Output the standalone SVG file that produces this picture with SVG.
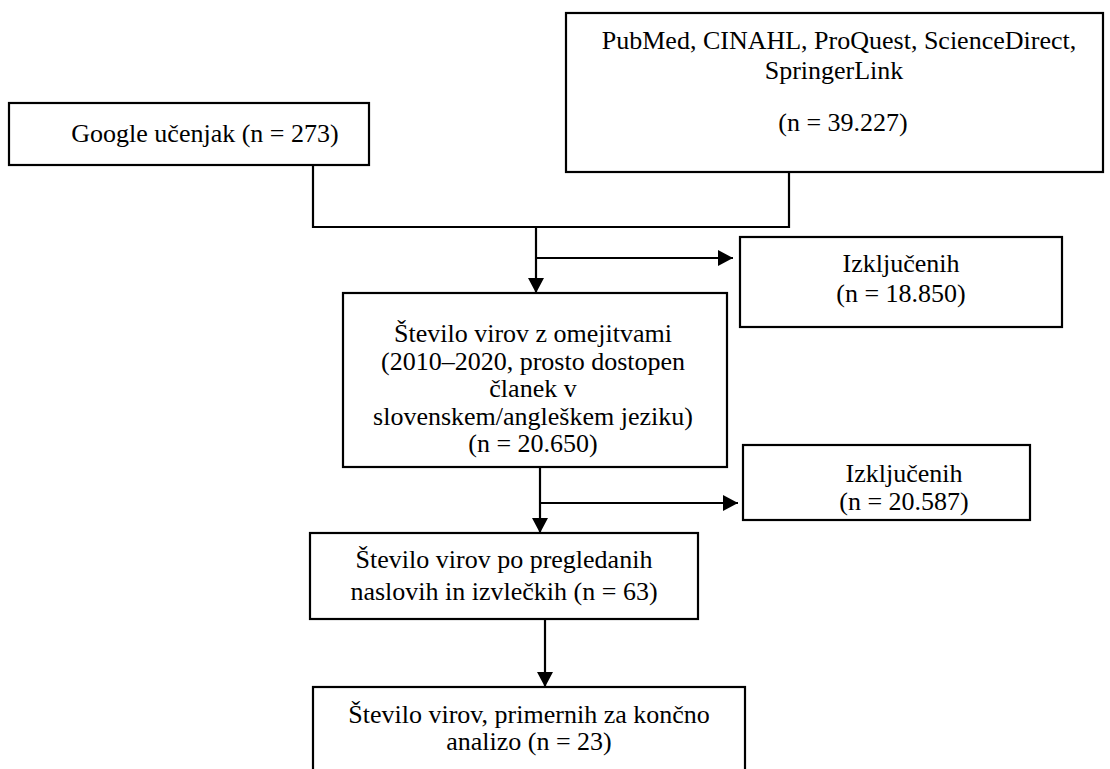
<svg xmlns="http://www.w3.org/2000/svg" width="1110" height="769" viewBox="0 0 1110 769">
<style>
.box{fill:#fff;stroke:#000;stroke-width:2.2}
.t{font-family:"Liberation Serif","Times New Roman",serif;font-size:26px;fill:#000;text-anchor:middle}
.ln{fill:none;stroke:#000;stroke-width:2.2}
</style>
<defs>
<marker id="ah" markerUnits="userSpaceOnUse" markerWidth="16" markerHeight="16" refX="15" refY="8" orient="auto">
<path d="M0,0 L15,8 L0,16 z" fill="#000"/>
</marker>
</defs>
<rect width="1110" height="769" fill="#fff"/>
<g id="connectors">
<path class="ln" d="M313,165 V227 H789 V172"/>
<path class="ln" d="M536,227 V293" marker-end="url(#ah)"/>
<path class="ln" d="M536,258 H733" marker-end="url(#ah)"/>
<path class="ln" d="M540,467 V533" marker-end="url(#ah)"/>
<path class="ln" d="M540,503 H738" marker-end="url(#ah)"/>
<path class="ln" d="M545,619 V687" marker-end="url(#ah)"/>
</g>
<g id="google">
<rect class="box" x="9" y="103" width="360" height="62"/>
<text class="t" x="205" y="142">Google učenjak (n = 273)</text>
</g>
<g id="databases">
<rect class="box" x="566" y="13" width="537" height="159"/>
<text class="t" x="839" y="49">PubMed, CINAHL, ProQuest, ScienceDirect,</text>
<text class="t" x="834" y="79">SpringerLink</text>
<text class="t" x="843" y="131">(n = 39.227)</text>
</g>
<g id="excluded1">
<rect class="box" x="740" y="237" width="322" height="90"/>
<text class="t" x="901" y="272">Izključenih</text>
<text class="t" x="901" y="302">(n = 18.850)</text>
</g>
<g id="limits">
<rect class="box" x="343" y="293" width="384" height="174"/>
<text class="t" x="533" y="342">Število virov z omejitvami</text>
<text class="t" x="533" y="370">(2010–2020, prosto dostopen</text>
<text class="t" x="533" y="397">članek v</text>
<text class="t" x="533" y="425">slovenskem/angleškem jeziku)</text>
<text class="t" x="533" y="452">(n = 20.650)</text>
</g>
<g id="excluded2">
<rect class="box" x="743" y="445" width="287" height="75"/>
<text class="t" x="904" y="482">Izključenih</text>
<text class="t" x="904" y="510">(n = 20.587)</text>
</g>
<g id="screened">
<rect class="box" x="310" y="533" width="388" height="86"/>
<text class="t" x="504" y="568">Število virov po pregledanih</text>
<text class="t" x="504" y="600">naslovih in izvlečkih (n = 63)</text>
</g>
<g id="final">
<rect class="box" x="313" y="687" width="432" height="100"/>
<text class="t" x="529" y="723">Število virov, primernih za končno</text>
<text class="t" x="529" y="750">analizo (n = 23)</text>
</g>
</svg>
